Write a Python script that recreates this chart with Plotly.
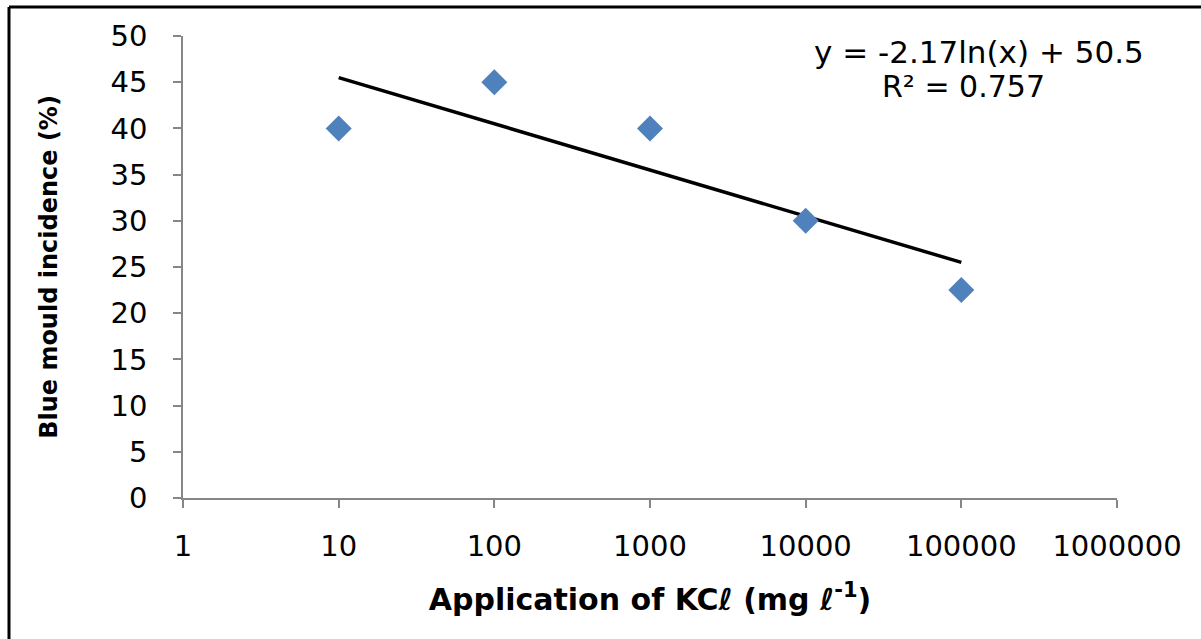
import numpy as np
import plotly.graph_objects as go

kcl = [10, 100, 1000, 10000, 100000]
incidence = [40, 45, 40, 30, 22.5]
x_ticks = [1, 10, 100, 1000, 10000, 100000, 1000000]
x_tick_labels = ["1", "10", "100", "1000", "10000", "100000", "1000000"]
y_ticks = [0, 5, 10, 15, 20, 25, 30, 35, 40, 45, 50]
equation_label = "y = -2.17ln(x) + 50.5"
r2_label = "R² = 0.757"

# logarithmic trendline fitted on the data
slope, intercept = np.polyfit(np.log(kcl), incidence, 1)
trend_x = [min(kcl), max(kcl)]
trend_y = [slope * np.log(v) + intercept for v in trend_x]

FONT = "DejaVu Sans, Verdana, sans-serif"
AXIS_GRAY = "#868686"

fig = go.Figure()
fig.add_trace(go.Scatter(x=trend_x, y=trend_y, mode="lines",
                         line=dict(color="black", width=3.5), showlegend=False))
fig.add_trace(go.Scatter(x=kcl, y=incidence, mode="markers",
                         marker=dict(symbol="diamond", size=20, color="#4F81BD"),
                         showlegend=False))

fig.update_layout(
    width=1201, height=639,
    margin=dict(l=183, r=84, t=36, b=141),
    paper_bgcolor="white", plot_bgcolor="white",
    font=dict(family=FONT, size=29, color="black"),
    xaxis=dict(type="log", range=[0, 6], tickvals=x_ticks, ticktext=x_tick_labels,
               showgrid=False, zeroline=False, showline=True, linecolor=AXIS_GRAY, linewidth=1.5,
               ticks="outside", ticklen=8, tickcolor=AXIS_GRAY, tickwidth=1.5,
               tickfont=dict(size=29),
               ticklabelstandoff=13,
               title=dict(text="<b>Application of KCℓ (mg ℓ<sup>-1</sup>)</b>", standoff=27,
                          font=dict(size=30))),
    yaxis=dict(range=[0, 50], tickvals=y_ticks,
               showgrid=False, zeroline=False, showline=True, linecolor=AXIS_GRAY, linewidth=1.5,
               ticks="outside", ticklen=8, tickcolor=AXIS_GRAY, tickwidth=1.5,
               tickfont=dict(size=29),
               ticklabelstandoff=20,
               title=dict(text="<b>Blue mould incidence (%)</b>", standoff=46,
                          font=dict(size=24))),
)

fig.add_annotation(xref="paper", yref="paper", x=0.852, y=0.965, xanchor="center", yanchor="middle",
                   text=equation_label, showarrow=False, font=dict(size=31))
fig.add_annotation(xref="paper", yref="paper", x=0.836, y=0.890, xanchor="center", yanchor="middle",
                   text=r2_label, showarrow=False, font=dict(size=30))

# figure frame (top and left edges visible)
fig.add_shape(type="line", xref="paper", yref="paper", x0=-0.1863, x1=1.2, y0=1.0628, y1=1.0628,
              line=dict(color="black", width=3))
fig.add_shape(type="line", xref="paper", yref="paper", x0=-0.1863, x1=-0.1863, y0=1.0628, y1=-0.4,
              line=dict(color="black", width=3))

fig.write_html("out.html")
